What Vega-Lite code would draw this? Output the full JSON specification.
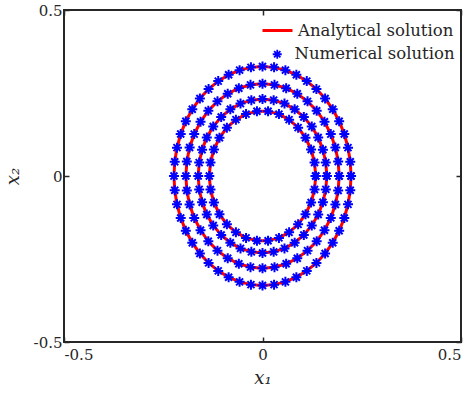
{
  "$schema": "https://vega.github.io/schema/vega-lite/v6.json",
  "width": 397,
  "height": 332,
  "autosize": {"type": "none"},
  "padding": {"left": 64, "top": 10, "right": 12, "bottom": 53},
  "background": "white",
  "config": {
    "font": "DejaVu Serif",
    "view": {"stroke": "#262626", "strokeWidth": 2},
    "axis": {
      "domain": false,
      "grid": false,
      "tickSize": -5,
      "tickWidth": 1.5,
      "tickColor": "#262626",
      "labelFont": "DejaVu Serif",
      "labelFontSize": 15,
      "labelColor": "#262626",
      "titleFont": "DejaVu Serif",
      "titleFontSize": 18,
      "titleFontStyle": "italic",
      "titleFontWeight": "normal",
      "titleColor": "#262626"
    },
    "legend": {
      "labelFont": "DejaVu Serif",
      "labelFontSize": 16.5,
      "labelColor": "#262626",
      "labelLimit": 300,
      "padding": 0
    }
  },
  "data": {
    "values": [
      {"r":4,"i":0,"x":0.223,"y":0},{"r":4,"i":1,"x":0.2211,"y":0.0431},{"r":4,"i":2,"x":0.2154,"y":0.0854},{"r":4,"i":3,"x":0.206,"y":0.1263},{"r":4,"i":4,"x":0.1931,"y":0.165},{"r":4,"i":5,"x":0.1769,"y":0.2009},{"r":4,"i":6,"x":0.1577,"y":0.2333},{"r":4,"i":7,"x":0.1358,"y":0.2618},{"r":4,"i":8,"x":0.1115,"y":0.2858},{"r":4,"i":9,"x":0.0853,"y":0.3049},{"r":4,"i":10,"x":0.0577,"y":0.3188},{"r":4,"i":11,"x":0.0291,"y":0.3272},{"r":4,"i":12,"x":0,"y":0.33},{"r":4,"i":13,"x":-0.0291,"y":0.3272},{"r":4,"i":14,"x":-0.0577,"y":0.3188},{"r":4,"i":15,"x":-0.0853,"y":0.3049},{"r":4,"i":16,"x":-0.1115,"y":0.2858},{"r":4,"i":17,"x":-0.1358,"y":0.2618},{"r":4,"i":18,"x":-0.1577,"y":0.2333},{"r":4,"i":19,"x":-0.1769,"y":0.2009},{"r":4,"i":20,"x":-0.1931,"y":0.165},{"r":4,"i":21,"x":-0.206,"y":0.1263},{"r":4,"i":22,"x":-0.2154,"y":0.0854},{"r":4,"i":23,"x":-0.2211,"y":0.0431},{"r":4,"i":24,"x":-0.223,"y":0},{"r":4,"i":25,"x":-0.2211,"y":-0.0431},{"r":4,"i":26,"x":-0.2154,"y":-0.0854},{"r":4,"i":27,"x":-0.206,"y":-0.1263},{"r":4,"i":28,"x":-0.1931,"y":-0.165},{"r":4,"i":29,"x":-0.1769,"y":-0.2009},{"r":4,"i":30,"x":-0.1577,"y":-0.2333},{"r":4,"i":31,"x":-0.1358,"y":-0.2618},{"r":4,"i":32,"x":-0.1115,"y":-0.2858},{"r":4,"i":33,"x":-0.0853,"y":-0.3049},{"r":4,"i":34,"x":-0.0577,"y":-0.3188},{"r":4,"i":35,"x":-0.0291,"y":-0.3272},{"r":4,"i":36,"x":0,"y":-0.33},{"r":4,"i":37,"x":0.0291,"y":-0.3272},{"r":4,"i":38,"x":0.0577,"y":-0.3188},{"r":4,"i":39,"x":0.0853,"y":-0.3049},{"r":4,"i":40,"x":0.1115,"y":-0.2858},{"r":4,"i":41,"x":0.1358,"y":-0.2618},{"r":4,"i":42,"x":0.1577,"y":-0.2333},{"r":4,"i":43,"x":0.1769,"y":-0.2009},{"r":4,"i":44,"x":0.1931,"y":-0.165},{"r":4,"i":45,"x":0.206,"y":-0.1263},{"r":4,"i":46,"x":0.2154,"y":-0.0854},{"r":4,"i":47,"x":0.2211,"y":-0.0431},{"r":4,"i":48,"x":0.223,"y":0},
      {"r":3,"i":0,"x":0.193,"y":0},{"r":3,"i":1,"x":0.1906,"y":0.0435},{"r":3,"i":2,"x":0.1836,"y":0.0859},{"r":3,"i":3,"x":0.172,"y":0.1262},{"r":3,"i":4,"x":0.1561,"y":0.1634},{"r":3,"i":5,"x":0.1365,"y":0.1966},{"r":3,"i":6,"x":0.1134,"y":0.2249},{"r":3,"i":7,"x":0.0876,"y":0.2477},{"r":3,"i":8,"x":0.0596,"y":0.2644},{"r":3,"i":9,"x":0.0302,"y":0.2746},{"r":3,"i":10,"x":0,"y":0.278},{"r":3,"i":11,"x":-0.0302,"y":0.2746},{"r":3,"i":12,"x":-0.0596,"y":0.2644},{"r":3,"i":13,"x":-0.0876,"y":0.2477},{"r":3,"i":14,"x":-0.1134,"y":0.2249},{"r":3,"i":15,"x":-0.1365,"y":0.1966},{"r":3,"i":16,"x":-0.1561,"y":0.1634},{"r":3,"i":17,"x":-0.172,"y":0.1262},{"r":3,"i":18,"x":-0.1836,"y":0.0859},{"r":3,"i":19,"x":-0.1906,"y":0.0435},{"r":3,"i":20,"x":-0.193,"y":0},{"r":3,"i":21,"x":-0.1906,"y":-0.0435},{"r":3,"i":22,"x":-0.1836,"y":-0.0859},{"r":3,"i":23,"x":-0.172,"y":-0.1262},{"r":3,"i":24,"x":-0.1561,"y":-0.1634},{"r":3,"i":25,"x":-0.1365,"y":-0.1966},{"r":3,"i":26,"x":-0.1134,"y":-0.2249},{"r":3,"i":27,"x":-0.0876,"y":-0.2477},{"r":3,"i":28,"x":-0.0596,"y":-0.2644},{"r":3,"i":29,"x":-0.0302,"y":-0.2746},{"r":3,"i":30,"x":0,"y":-0.278},{"r":3,"i":31,"x":0.0302,"y":-0.2746},{"r":3,"i":32,"x":0.0596,"y":-0.2644},{"r":3,"i":33,"x":0.0876,"y":-0.2477},{"r":3,"i":34,"x":0.1134,"y":-0.2249},{"r":3,"i":35,"x":0.1365,"y":-0.1966},{"r":3,"i":36,"x":0.1561,"y":-0.1634},{"r":3,"i":37,"x":0.172,"y":-0.1262},{"r":3,"i":38,"x":0.1836,"y":-0.0859},{"r":3,"i":39,"x":0.1906,"y":-0.0435},{"r":3,"i":40,"x":0.193,"y":0},
      {"r":2,"i":0,"x":0.162,"y":0},{"r":2,"i":1,"x":0.1595,"y":0.0403},{"r":2,"i":2,"x":0.1522,"y":0.0793},{"r":2,"i":3,"x":0.1403,"y":0.116},{"r":2,"i":4,"x":0.1241,"y":0.1491},{"r":2,"i":5,"x":0.1041,"y":0.1777},{"r":2,"i":6,"x":0.081,"y":0.2009},{"r":2,"i":7,"x":0.0554,"y":0.218},{"r":2,"i":8,"x":0.0281,"y":0.2285},{"r":2,"i":9,"x":0,"y":0.232},{"r":2,"i":10,"x":-0.0281,"y":0.2285},{"r":2,"i":11,"x":-0.0554,"y":0.218},{"r":2,"i":12,"x":-0.081,"y":0.2009},{"r":2,"i":13,"x":-0.1041,"y":0.1777},{"r":2,"i":14,"x":-0.1241,"y":0.1491},{"r":2,"i":15,"x":-0.1403,"y":0.116},{"r":2,"i":16,"x":-0.1522,"y":0.0793},{"r":2,"i":17,"x":-0.1595,"y":0.0403},{"r":2,"i":18,"x":-0.162,"y":0},{"r":2,"i":19,"x":-0.1595,"y":-0.0403},{"r":2,"i":20,"x":-0.1522,"y":-0.0793},{"r":2,"i":21,"x":-0.1403,"y":-0.116},{"r":2,"i":22,"x":-0.1241,"y":-0.1491},{"r":2,"i":23,"x":-0.1041,"y":-0.1777},{"r":2,"i":24,"x":-0.081,"y":-0.2009},{"r":2,"i":25,"x":-0.0554,"y":-0.218},{"r":2,"i":26,"x":-0.0281,"y":-0.2285},{"r":2,"i":27,"x":0,"y":-0.232},{"r":2,"i":28,"x":0.0281,"y":-0.2285},{"r":2,"i":29,"x":0.0554,"y":-0.218},{"r":2,"i":30,"x":0.081,"y":-0.2009},{"r":2,"i":31,"x":0.1041,"y":-0.1777},{"r":2,"i":32,"x":0.1241,"y":-0.1491},{"r":2,"i":33,"x":0.1403,"y":-0.116},{"r":2,"i":34,"x":0.1522,"y":-0.0793},{"r":2,"i":35,"x":0.1595,"y":-0.0403},{"r":2,"i":36,"x":0.162,"y":0},
      {"r":1,"i":0,"x":0.134,"y":0},{"r":1,"i":1,"x":0.1311,"y":0.0408},{"r":1,"i":2,"x":0.1224,"y":0.0797},{"r":1,"i":3,"x":0.1084,"y":0.1152},{"r":1,"i":4,"x":0.0897,"y":0.1457},{"r":1,"i":5,"x":0.067,"y":0.1697},{"r":1,"i":6,"x":0.0414,"y":0.1864},{"r":1,"i":7,"x":0.014,"y":0.1949},{"r":1,"i":8,"x":-0.014,"y":0.1949},{"r":1,"i":9,"x":-0.0414,"y":0.1864},{"r":1,"i":10,"x":-0.067,"y":0.1697},{"r":1,"i":11,"x":-0.0897,"y":0.1457},{"r":1,"i":12,"x":-0.1084,"y":0.1152},{"r":1,"i":13,"x":-0.1224,"y":0.0797},{"r":1,"i":14,"x":-0.1311,"y":0.0408},{"r":1,"i":15,"x":-0.134,"y":0},{"r":1,"i":16,"x":-0.1311,"y":-0.0408},{"r":1,"i":17,"x":-0.1224,"y":-0.0797},{"r":1,"i":18,"x":-0.1084,"y":-0.1152},{"r":1,"i":19,"x":-0.0897,"y":-0.1457},{"r":1,"i":20,"x":-0.067,"y":-0.1697},{"r":1,"i":21,"x":-0.0414,"y":-0.1864},{"r":1,"i":22,"x":-0.014,"y":-0.1949},{"r":1,"i":23,"x":0.014,"y":-0.1949},{"r":1,"i":24,"x":0.0414,"y":-0.1864},{"r":1,"i":25,"x":0.067,"y":-0.1697},{"r":1,"i":26,"x":0.0897,"y":-0.1457},{"r":1,"i":27,"x":0.1084,"y":-0.1152},{"r":1,"i":28,"x":0.1224,"y":-0.0797},{"r":1,"i":29,"x":0.1311,"y":-0.0408},{"r":1,"i":30,"x":0.134,"y":0}
    ]
  },
  "layer": [
    {
      "mark": {"type": "line", "strokeWidth": 3, "interpolate": "linear"},
      "encoding": {
        "x": {"field": "x", "type": "quantitative", "scale": {"domain": [-0.5, 0.5], "nice": false, "zero": false},
              "axis": {"orient": "bottom", "values": [-0.5, 0, 0.5], "title": "x₁", "labelExpr": "datum.value == 0 ? '0' : (datum.value < 0 ? '-' : '') + format(abs(datum.value), '.1f')", "labelPadding": 10, "titlePadding": 7}},
        "y": {"field": "y", "type": "quantitative", "scale": {"domain": [-0.5, 0.5], "nice": false, "zero": false},
              "axis": {"orient": "left", "values": [-0.5, 0, 0.5], "title": "x₂", "labelExpr": "datum.value == 0 ? '0' : (datum.value < 0 ? '-' : '') + format(abs(datum.value), '.1f')", "labelPadding": 7, "titlePadding": 11}},
        "detail": {"field": "r"},
        "order": {"field": "i"},
        "stroke": {"datum": "Analytical solution", "scale": {"range": ["#ff0000"]},
                   "legend": {"title": null, "orient": "none", "legendX": 197, "legendY": 4, "symbolType": "stroke", "symbolSize": 900, "symbolStrokeWidth": 3, "labelOffset": 4}}
      }
    },
    {
      "mark": {"type": "point", "filled": false, "color": "#0000ff", "size": 100, "strokeWidth": 2, "opacity": 1},
      "encoding": {
        "x": {"field": "x", "type": "quantitative", "scale": {"domain": [-0.5, 0.5], "nice": false, "zero": false},
              "axis": {"orient": "top", "values": [-0.5, 0, 0.5], "title": null, "labels": false}},
        "y": {"field": "y", "type": "quantitative", "scale": {"domain": [-0.5, 0.5], "nice": false, "zero": false},
              "axis": {"orient": "right", "values": [-0.5, 0, 0.5], "title": null, "labels": false}},
        "detail": {"field": "r"},
        "shape": {"datum": "Numerical solution", "scale": {"range": ["M-1,0L1,0M0,-1L0,1M-0.7,-0.7L0.7,0.7M-0.7,0.7L0.7,-0.7"]},
                  "legend": {"title": null, "orient": "none", "legendX": 205, "legendY": 36, "symbolStrokeColor": "#0000ff", "symbolFillColor": "transparent", "symbolSize": 81, "symbolStrokeWidth": 1.8, "labelOffset": 9}}
      }
    }
  ],
  "resolve": {"axis": {"x": "independent", "y": "independent"}}
}
